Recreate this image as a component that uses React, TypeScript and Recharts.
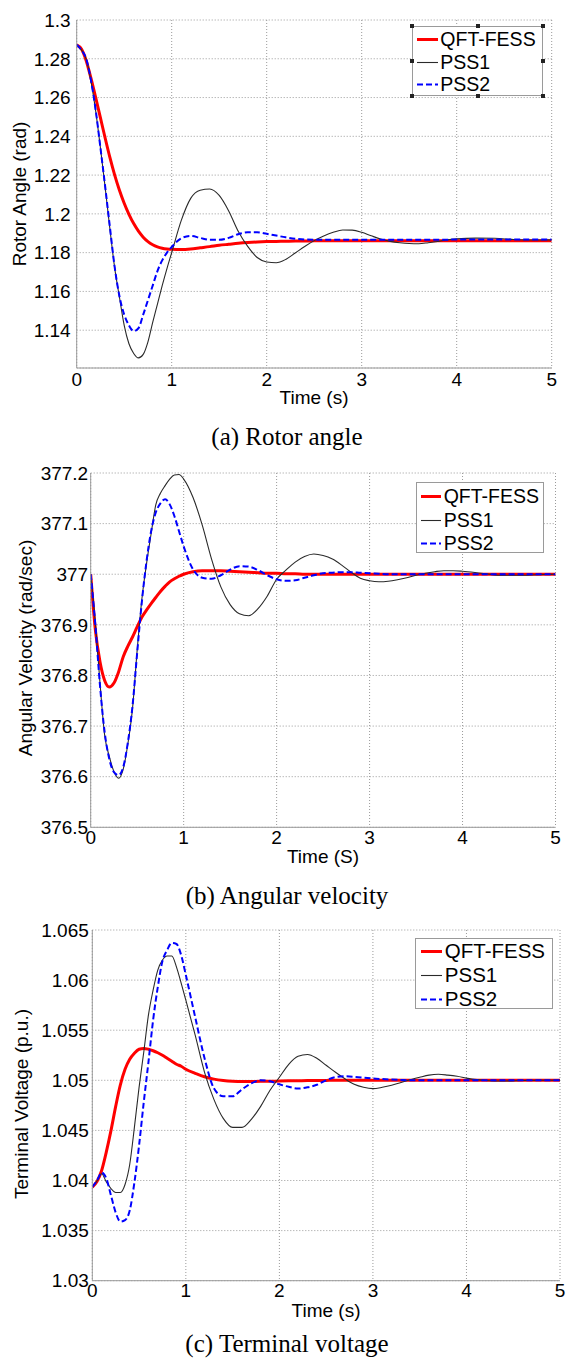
import React from 'react';
import { LineChart, Line, XAxis, YAxis, CartesianGrid, Legend } from 'recharts';

// ---------- data ----------
const TIME = [
  0, 0.05, 0.1, 0.15, 0.2, 0.25, 0.3, 0.35, 0.4, 0.45, 0.5, 0.55, 0.6, 0.65, 0.7, 0.75, 0.8, 0.85, 0.9, 0.95, 1.0,
  1.1, 1.2, 1.3, 1.4, 1.5, 1.6, 1.7, 1.8, 1.9, 2.0,
  2.1, 2.2, 2.3, 2.4, 2.5, 2.6, 2.7, 2.8, 2.9, 3.0,
  3.1, 3.2, 3.3, 3.4, 3.5, 3.6, 3.7, 3.8, 3.9, 4.0,
  4.2, 4.4, 4.6, 4.8, 5.0,
];

const SERIES_NAMES = ['QFT-FESS', 'PSS1', 'PSS2'];

// (a) Rotor angle (rad)
const A_QFT = [
  1.2872, 1.285, 1.279, 1.27, 1.26, 1.2495, 1.239, 1.229, 1.22, 1.2122, 1.2055, 1.1998, 1.195, 1.1911, 1.188, 1.1857, 1.1841, 1.183, 1.1823, 1.1819, 1.1817,
  1.1816, 1.1819, 1.1825, 1.1831, 1.1838, 1.1843, 1.1848, 1.1852, 1.1855, 1.1857,
  1.1858, 1.1859, 1.186, 1.186, 1.1861, 1.1861, 1.1861, 1.1861, 1.1861, 1.1861,
  1.1861, 1.1861, 1.1861, 1.1861, 1.1861, 1.1861, 1.1861, 1.1861, 1.1861, 1.1861,
  1.1861, 1.1861, 1.1861, 1.1861, 1.1861,
];
const A_PSS1 = [
  1.2872, 1.2846, 1.2798, 1.2685, 1.253, 1.234, 1.2135, 1.192, 1.172, 1.157, 1.1425, 1.133, 1.128, 1.1257, 1.1275, 1.134, 1.144, 1.1535, 1.163, 1.1718, 1.18,
  1.1965, 1.208, 1.2122, 1.2128, 1.2095, 1.2015, 1.191, 1.1832, 1.1775, 1.1752,
  1.1748, 1.1765, 1.1798, 1.1832, 1.1862, 1.1886, 1.1905, 1.1917, 1.1916, 1.1905,
  1.1887, 1.187, 1.1858, 1.1851, 1.1847, 1.1846, 1.1851, 1.1858, 1.1866, 1.1871,
  1.1875, 1.1874, 1.1868, 1.1865, 1.1866,
];
const A_PSS2 = [
  1.2872, 1.2845, 1.28, 1.269, 1.2535, 1.234, 1.214, 1.193, 1.1725, 1.1575, 1.148, 1.1425, 1.1395, 1.141, 1.148, 1.1555, 1.163, 1.1705, 1.176, 1.18, 1.1829,
  1.1874, 1.1886, 1.1876, 1.1866, 1.1866, 1.1876, 1.1895, 1.1905, 1.1905, 1.1897,
  1.1888, 1.1879, 1.1872, 1.1868, 1.1867, 1.1867, 1.1867, 1.1867, 1.1867, 1.1867,
  1.1867, 1.1867, 1.1867, 1.1867, 1.1867, 1.1867, 1.1867, 1.1867, 1.1867, 1.1868,
  1.1868, 1.1868, 1.1868, 1.1868, 1.1868,
];

// (b) Angular velocity (rad/sec)
const B_QFT = [
  377.0, 376.89, 376.827, 376.79, 376.777, 376.785, 376.807, 376.837, 376.858, 376.876, 376.896, 376.915, 376.929, 376.942, 376.954, 376.966, 376.976, 376.985, 376.991, 376.996, 377.0,
  377.005, 377.007, 377.007, 377.007, 377.006, 377.005, 377.004, 377.003, 377.002, 377.002,
  377.001, 377.001, 377.0, 377.0, 377.0, 377.0, 377.0, 377.0, 377.0, 377.0,
  377.0, 377.0, 377.0, 377.0, 377.0, 377.0, 377.0, 377.0, 377.0, 377.0,
  377.0, 377.0, 377.0, 377.0, 377.0,
];
const B_PSS1 = [
  377.0, 376.905, 376.785, 376.682, 376.64, 376.61, 376.597, 376.615, 376.665, 376.735, 376.85, 376.95, 377.02, 377.08, 377.137, 377.16, 377.175, 377.188, 377.196, 377.197, 377.188,
  377.152, 377.097, 377.03, 376.975, 376.94, 376.922, 376.918, 376.932, 376.957, 376.99,
  377.008, 377.024, 377.035, 377.04, 377.037, 377.03, 377.018, 377.004, 376.992, 376.987,
  376.985, 376.986, 376.989, 376.993, 376.998, 377.002, 377.005, 377.007, 377.007, 377.006,
  377.002, 376.998, 376.998, 376.999, 377.0,
];
const B_PSS2 = [
  377.0, 376.9, 376.78, 376.688, 376.635, 376.609, 376.603, 376.619, 376.668, 376.74, 376.845, 376.945, 377.025, 377.085, 377.122, 377.14, 377.148, 377.138, 377.115, 377.085, 377.055,
  377.01, 376.993, 376.991, 376.998, 377.009, 377.016, 377.015, 377.008, 376.998, 376.99,
  376.987, 376.988, 376.993, 376.998, 377.002, 377.003, 377.004, 377.004, 377.003, 377.002,
  377.001, 377.0, 377.0, 377.0, 377.0, 377.0, 377.0, 377.0, 377.0, 377.0,
  377.0, 377.0, 377.0, 377.0, 377.0,
];

// (c) Terminal voltage (p.u.)
const C_QFT = [
  1.03935, 1.0399, 1.041, 1.04285, 1.045, 1.0474, 1.04955, 1.0511, 1.0521, 1.0527, 1.0531, 1.05318, 1.0531, 1.05295, 1.05275, 1.0525, 1.0522, 1.0519, 1.0516, 1.0514, 1.0511,
  1.0507, 1.05035, 1.05012, 1.04998, 1.0499, 1.04987, 1.04988, 1.0499, 1.0499, 1.04993,
  1.04995, 1.04996, 1.04997, 1.04998, 1.04999, 1.05, 1.05, 1.05, 1.05, 1.05,
  1.05, 1.05, 1.05, 1.05, 1.05, 1.05, 1.05, 1.05, 1.05, 1.05,
  1.05, 1.05, 1.05, 1.05, 1.05,
];
const C_PSS1 = [
  1.03935, 1.03995, 1.04068, 1.03985, 1.0392, 1.0388, 1.0388, 1.0396, 1.0416, 1.0453, 1.0493, 1.0528, 1.0565, 1.059, 1.061, 1.062, 1.0624, 1.0624, 1.0613, 1.0597, 1.058,
  1.0545, 1.0508, 1.0481, 1.0462, 1.0453, 1.0453, 1.0461, 1.0474, 1.049, 1.0503,
  1.0516, 1.0524, 1.05258, 1.0522, 1.0515, 1.0508, 1.05015, 1.0496, 1.0493, 1.04917,
  1.0493, 1.0495, 1.04978, 1.05005, 1.0503, 1.05052, 1.0506, 1.05052, 1.0504, 1.05022,
  1.04998, 1.04993, 1.04998, 1.05, 1.05,
];
const C_PSS2 = [
  1.03935, 1.04, 1.04078, 1.0402, 1.0385, 1.0368, 1.0359, 1.03605, 1.037, 1.0398, 1.0435, 1.0478, 1.0518, 1.056, 1.0593, 1.0619, 1.063, 1.0637, 1.0636, 1.0625, 1.0605,
  1.0563, 1.0522, 1.0492, 1.0484, 1.0484, 1.0491, 1.0497, 1.05, 1.0499, 1.0496,
  1.04935, 1.04918, 1.0493, 1.04955, 1.05, 1.05032, 1.0504, 1.05035, 1.05027, 1.05018,
  1.05012, 1.05007, 1.05003, 1.05, 1.05, 1.05, 1.05, 1.05, 1.05, 1.05,
  1.05, 1.05, 1.05, 1.05, 1.05,
];

// ticks
const X_TICKS = [0, 1, 2, 3, 4, 5];
const A_TICKS = [1.14, 1.16, 1.18, 1.2, 1.22, 1.24, 1.26, 1.28, 1.3];
const B_TICKS = [376.5, 376.6, 376.7, 376.8, 376.9, 377.0, 377.1, 377.2];
const C_TICKS = [1.03, 1.035, 1.04, 1.045, 1.05, 1.055, 1.06, 1.065];

// ---------- style ----------
const SANS = "'Liberation Sans', Arial, sans-serif";
const SERIF = "'Liberation Serif', 'Times New Roman', serif";
const RED = '#ff0000';
const BLACK = '#2a2a2a';
const BLUE = '#0000ff';
const AXIS = '#9a9a9a';
const GRID = '#9a9a9a';

const LINE_STYLES = [
  { color: RED, width: 3, dash: undefined as string | undefined },
  { color: BLACK, width: 1.1, dash: undefined as string | undefined },
  { color: BLUE, width: 2, dash: '6 3' },
];

const fmt = (v: number) => String(parseFloat(Number(v).toFixed(4)));

type LegendCfg = {
  left: number; top: number; w: number; h: number; rows: number[];
  sampleX: number; sampleLen: number; textX: number; fs: number; handles: boolean;
};

type PanelCfg = {
  top: number; height: number;
  plotLeft: number; plotRight: number; plotTop: number; plotBottom: number;
  domain: [number, number]; ticks: number[];
  yTickMargin: number; xTickMargin: number;
  qft: number[]; pss1: number[]; pss2: number[];
  legend: LegendCfg;
};

const PANELS: PanelCfg[] = [
  {
    top: 0, height: 440, plotLeft: 76.7, plotRight: 551.7, plotTop: 20, plotBottom: 368,
    domain: [1.1205, 1.3], ticks: A_TICKS, yTickMargin: 6, xTickMargin: 5,
    qft: A_QFT, pss1: A_PSS1, pss2: A_PSS2,
    legend: { left: 412.3, top: 25.7, w: 131, h: 70, rows: [12.6, 35.3, 57.6], sampleX: 3.7, sampleLen: 21, textX: 27, fs: 19.5, handles: true },
  },
  {
    top: 440, height: 460, plotLeft: 90.7, plotRight: 555.5, plotTop: 473, plotBottom: 827.3,
    domain: [376.5, 377.2], ticks: B_TICKS, yTickMargin: 2.5, xTickMargin: 3,
    qft: B_QFT, pss1: B_PSS1, pss2: B_PSS2,
    legend: { left: 415.7, top: 482, w: 128.3, h: 71, rows: [13, 36.5, 60], sampleX: 4.3, sampleLen: 20, textX: 27, fs: 19.5, handles: false },
  },
  {
    top: 900, height: 460, plotLeft: 92.3, plotRight: 560, plotTop: 930, plotBottom: 1280.7,
    domain: [1.03, 1.065], ticks: C_TICKS, yTickMargin: 3.5, xTickMargin: 3,
    qft: C_QFT, pss1: C_PSS1, pss2: C_PSS2,
    legend: { left: 415, top: 938.3, w: 137.5, h: 71, rows: [11.7, 35.7, 59.4], sampleX: 5, sampleLen: 21, textX: 28.8, fs: 20.5, handles: false },
  },
];

const TEXTS = [
  { yLabel: 'Rotor Angle (rad)', yx: 26, yy: 194, xLabel: 'Time (s)', xx: 314, xy: 404, caption: '(a) Rotor angle', cy: 445 },
  { yLabel: 'Angular Velocity (rad/sec)', yx: 31.5, yy: 648, xLabel: 'Time (S)', xx: 323, xy: 863, caption: '(b) Angular velocity', cy: 904 },
  { yLabel: 'Terminal Voltage (p.u.)', yx: 27.5, yy: 1104, xLabel: 'Time (s)', xx: 326, xy: 1317, caption: '(c) Terminal voltage', cy: 1352 },
];

function LegendBox({ cfg }: { cfg: LegendCfg }) {
  const hs = 4;
  const handlePts = [
    [0, 0], [cfg.w / 2, 0], [cfg.w, 0],
    [0, cfg.h / 2], [cfg.w, cfg.h / 2],
    [0, cfg.h], [cfg.w / 2, cfg.h], [cfg.w, cfg.h],
  ];
  return (
    <div
      style={{
        position: 'relative', width: cfg.w, height: cfg.h, boxSizing: 'border-box',
        border: `1px solid ${AXIS}`, background: '#fff', fontFamily: SANS, fontSize: cfg.fs, color: '#000',
      }}
    >
      {SERIES_NAMES.map((name, i) => {
        const s = LINE_STYLES[i];
        return (
          <div key={name} style={{ position: 'absolute', left: 0, top: cfg.rows[i] - 12, height: 24, width: cfg.w }}>
            <svg width={cfg.sampleLen + 2} height={24} style={{ position: 'absolute', left: cfg.sampleX - 1, top: 0 }}>
              <line x1={1} x2={cfg.sampleLen + 1} y1={12.5} y2={12.5} stroke={s.color} strokeWidth={s.width} strokeDasharray={s.dash} />
            </svg>
            <span style={{ position: 'absolute', left: cfg.textX, top: 0, lineHeight: '24px', whiteSpace: 'nowrap' }}>{name}</span>
          </div>
        );
      })}
      {cfg.handles &&
        handlePts.map(([hx, hy], k) => (
          <div key={k} style={{ position: 'absolute', left: hx - hs / 2 - 1, top: hy - hs / 2 - 1, width: hs, height: hs, background: '#222' }} />
        ))}
    </div>
  );
}

function Panel({ p }: { p: PanelCfg }) {
  const data = TIME.map((t, i) => ({ t, qft: p.qft[i], pss1: p.pss1[i], pss2: p.pss2[i] }));
  const xAxisH = 30;
  const margin = {
    top: p.plotTop - p.top,
    right: 568 - p.plotRight,
    left: 0,
    bottom: p.height - (p.plotBottom - p.top) - xAxisH,
  };
  const tickStyle = { fill: '#000', fontSize: 19, fontFamily: SANS };
  const keys = ['qft', 'pss1', 'pss2'];
  return (
    <div style={{ position: 'absolute', left: 0, top: p.top }}>
      <LineChart width={568} height={p.height} data={data} margin={margin}>
        <CartesianGrid stroke={GRID} strokeDasharray="1 2" />
        <XAxis
          dataKey="t" type="number" domain={[0, 5]} ticks={X_TICKS} allowDataOverflow interval={0}
          height={xAxisH} tickLine={false} tickSize={0} tickMargin={p.xTickMargin}
          axisLine={{ stroke: AXIS }} tick={tickStyle}
        />
        <XAxis xAxisId="top" orientation="top" type="number" domain={[0, 5]} height={0} tick={false} tickLine={false} axisLine={{ stroke: AXIS }} />
        <YAxis
          type="number" domain={p.domain} ticks={p.ticks} allowDataOverflow interval={0}
          width={p.plotLeft} tickLine={false} tickSize={0} tickMargin={p.yTickMargin}
          axisLine={{ stroke: AXIS }} tick={tickStyle} tickFormatter={fmt}
        />
        <YAxis yAxisId="right" orientation="right" type="number" domain={[0, 1]} width={0} tick={false} tickLine={false} axisLine={{ stroke: AXIS }} />
        {keys.map((k, i) => (
          <Line
            key={k}
            dataKey={k}
            name={SERIES_NAMES[i]}
            type="monotone"
            stroke={LINE_STYLES[i].color}
            strokeWidth={LINE_STYLES[i].width}
            strokeDasharray={LINE_STYLES[i].dash}
            dot={false}
            activeDot={false}
            isAnimationActive={false}
          />
        ))}
        <Legend
          layout="horizontal"
          verticalAlign="middle"
          align="center"
          wrapperStyle={{ left: p.legend.left, top: p.legend.top - p.top, width: p.legend.w, height: p.legend.h, margin: 0, padding: 0 }}
          content={() => <LegendBox cfg={p.legend} />}
        />
      </LineChart>
    </div>
  );
}

export default function App() {
  return (
    <div style={{ position: 'absolute', left: 0, top: 0, width: 568, height: 1360, background: '#fff', overflow: 'hidden' }}>
      {PANELS.map((p, i) => (
        <Panel key={i} p={p} />
      ))}
      <svg width={568} height={1360} style={{ position: 'absolute', left: 0, top: 0, pointerEvents: 'none' }}>
        {TEXTS.map((t, i) => (
          <g key={i}>
            <text
              x={t.yx} y={t.yy} textAnchor="middle" fontFamily={SANS} fontSize={19} fill="#000"
              transform={`rotate(-90 ${t.yx} ${t.yy})`}
            >
              {t.yLabel}
            </text>
            <text x={t.xx} y={t.xy} textAnchor="middle" fontFamily={SANS} fontSize={19} fill="#000">
              {t.xLabel}
            </text>
            <text x={287} y={t.cy} textAnchor="middle" fontFamily={SERIF} fontSize={25} fill="#000">
              {t.caption}
            </text>
          </g>
        ))}
      </svg>
    </div>
  );
}
